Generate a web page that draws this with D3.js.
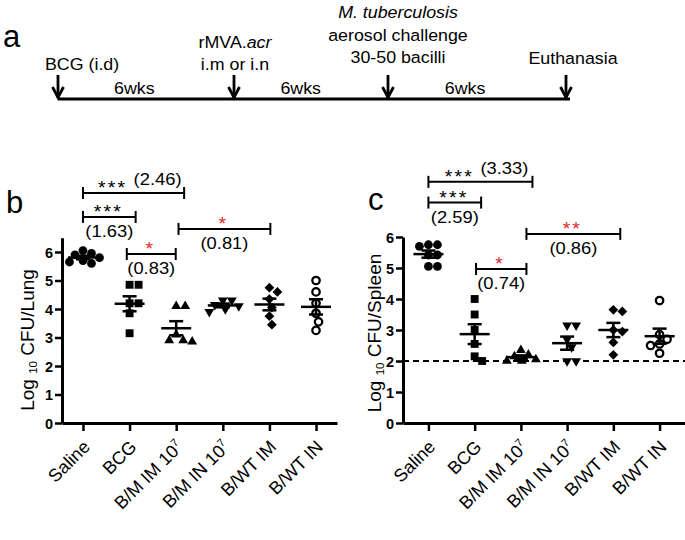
<!DOCTYPE html>
<html><head><meta charset="utf-8">
<script src="https://cdn.jsdelivr.net/npm/d3@7"></script>
<style>
body{margin:0;background:#fff}
svg{display:block}
text{font-family:"Liberation Sans",Arial,Helvetica,sans-serif;fill:#000}
</style>
</head><body>
<svg id="chart" width="685" height="540"></svg>
<script>
// ---------------- DATA ----------------
const categories = ["Saline", "BCG", "B/M IM 10", "B/M IN 10", "B/WT IM", "B/WT IN"];
const categorySup = ["", "", "7", "7", "", ""];

const lungValues = [
  [6.05, 5.95, 5.9, 5.8, 5.7, 5.65, 5.6],
  [4.85, 4.85, 4.2, 4.2, 3.85, 3.15],
  [4.1, 4.1, 3.1, 2.9, 2.85, 2.9],
  [4.3, 4.3, 4.15, 4.1, 4.0, 3.9],
  [4.75, 4.6, 4.35, 4.05, 3.75, 3.45],
  [5.0, 4.6, 4.2, 3.85, 3.55, 3.25]
];
const spleenValues = [
  [5.75, 5.75, 5.7, 5.42, 5.42, 5.05, 5.05],
  [4.0, 3.5, 3.0, 2.55, 2.15, 2.0],
  [2.35, 2.2, 2.15, 2.05, 2.0, 2.0],
  [3.15, 3.15, 2.7, 2.45, 2.0, 2.0],
  [3.65, 3.6, 3.0, 2.95, 2.6, 2.2],
  [3.95, 2.85, 2.7, 2.55, 2.5, 2.25]
];
const lungTicks = [0, 1, 2, 3, 4, 5, 6];
const spleenTicks = [0, 1, 2, 3, 4, 5, 6];
const detectionLimit = 2;

const markerShapes = ["circle", "square", "triangle", "triangleDown", "diamond", "ring"];

// significance brackets: from/to in category index units, level in log10 units
const lungBrackets = [
  {from: 0, to: 2.17, level: 8.07, stars: "***", diff: "(2.46)", red: false, inline: true},
  {from: 0, to: 1.13, level: 7.23, stars: "***", diff: "(1.63)", red: false, inline: false},
  {from: 0.94, to: 1.99, level: 5.93, stars: "*", diff: "(0.83)", red: true, inline: false},
  {from: 2.05, to: 4.02, level: 6.81, stars: "*", diff: "(0.81)", red: true, inline: false}
];
const spleenBrackets = [
  {from: 0, to: 2.25, level: 7.78, stars: "***", diff: "(3.33)", red: false, inline: true},
  {from: 0, to: 1.14, level: 7.11, stars: "***", diff: "(2.59)", red: false, inline: false},
  {from: 1.03, to: 2.12, level: 4.97, stars: "*", diff: "(0.74)", red: true, inline: false},
  {from: 2.12, to: 4.15, level: 6.10, stars: "**", diff: "(0.86)", red: true, inline: false}
];

// timeline (panel a)
const timelineWeeks = [0, 6, 12, 18];
const eventLabels = [
  [[{t: "BCG (i.d)"}]],
  [[{t: "rMVA."}, {t: "acr", i: true}], [{t: "i.m or i.n"}]],
  [[{t: "M. tuberculosis", i: true}], [{t: "aerosol challenge"}], [{t: "30-50 bacilli"}]],
  [[{t: "Euthanasia"}]]
];
const intervalLabels = ["6wks", "6wks", "6wks"];

// ---------------- DRAWING ----------------
const svg = d3.select("#chart");
const RED = "#e3262b";
const SX = 1.08; // horizontal stretch of the reference lettering

function hText(g, x, y, segs, size, anchor, fill) {
  const t = g.append("text")
    .attr("transform", `translate(${x},${y}) scale(${SX},1)`)
    .attr("text-anchor", anchor || "middle")
    .style("font-size", size + "px");
  if (fill) t.style("fill", fill);
  segs.forEach(s => {
    const ts = t.append("tspan").text(s.t);
    if (s.i) ts.style("font-style", "italic");
  });
  return t;
}

// ---- Panel a ----
(function () {
  const g = svg.append("g");
  const tx = d3.scaleLinear().domain(timelineWeeks).range([58, 234, 388, 566]);
  const lineY = 99;
  g.append("text").attr("x", 3).attr("y", 47).style("font-size", "31px").text("a");
  g.append("line").attr("x1", tx(0)).attr("x2", tx(18) + 4)
    .attr("y1", lineY).attr("y2", lineY).attr("stroke", "#000").attr("stroke-width", 3);
  timelineWeeks.forEach(w => {
    const x = tx(w);
    g.append("line").attr("x1", x).attr("x2", x).attr("y1", 75).attr("y2", lineY - 1)
      .attr("stroke", "#000").attr("stroke-width", 2.8);
    g.append("path").attr("d", `M${x - 5.5},${lineY - 12} L${x},${lineY - 1.5} L${x + 5.5},${lineY - 12}`)
      .attr("fill", "none").attr("stroke", "#000").attr("stroke-width", 2.8);
  });
  const labelShift = [{dx: -13, anchor: "start"}, {dx: 1, anchor: "middle"}, {dx: 10, anchor: "middle"}, {dx: 7, anchor: "middle"}];
  const bottomBase = [70, 70, 63, 64];
  eventLabels.forEach((lines, i) => {
    const n = lines.length;
    lines.forEach((segs, j) => {
      const y = bottomBase[i] - (n - 1 - j) * 22.5;
      hText(g, tx(timelineWeeks[i]) + labelShift[i].dx, y, segs, 16.5, labelShift[i].anchor);
    });
  });
  intervalLabels.forEach((lab, i) => {
    hText(g, tx(timelineWeeks[i] + 2.6), 94, [{t: lab}], 16.5, "middle");
  });
})();

// ---- scatter panels ----
function swarmOffsets(vals, y, d) {
  const placed = [];
  const offs = new Array(vals.length);
  const order = vals.map((v, i) => i).sort((a, b) => vals[b] - vals[a]);
  order.forEach(i => {
    const py = y(vals[i]);
    let off = 0;
    for (let k = 0; k < 400; k++) {
      const c = k === 0 ? 0 : ((k % 2) ? 1 : -1) * Math.ceil(k / 2) * 0.5;
      const hit = placed.some(p => (p.x - c) * (p.x - c) + (p.y - py) * (p.y - py) < d * d);
      if (!hit) { off = c; break; }
    }
    placed.push({x: off, y: py});
    offs[i] = off;
  });
  return offs;
}

function marker(g, shape, x, y) {
  let p;
  if (shape === "circle") {
    p = g.append("circle").attr("r", 4.4).attr("fill", "#000");
  } else if (shape === "ring") {
    p = g.append("circle").attr("r", 3.7).attr("fill", "#fff").attr("stroke", "#000").attr("stroke-width", 2.3);
  } else if (shape === "square") {
    p = g.append("path").attr("d", d3.symbol().type(d3.symbolSquare).size(62)()).attr("fill", "#000");
  } else if (shape === "triangle") {
    p = g.append("path").attr("d", d3.symbol().type(d3.symbolTriangle).size(42)()).attr("fill", "#000");
  } else if (shape === "triangleDown") {
    p = g.append("path").attr("d", d3.symbol().type(d3.symbolTriangle).size(42)()).attr("fill", "#000");
    p.attr("transform", `translate(${x},${y}) rotate(180)`);
    return;
  } else if (shape === "diamond") {
    p = g.append("path").attr("d", d3.symbol().type(d3.symbolSquare).size(48)()).attr("fill", "#000");
    p.attr("transform", `translate(${x},${y}) rotate(45)`);
    return;
  }
  if (shape === "circle" || shape === "ring") p.attr("cx", x).attr("cy", y);
  else p.attr("transform", `translate(${x},${y})`);
}

function drawPanel(cfg) {
  const g = svg.append("g");
  const x = d3.scalePoint().domain(categories).range([cfg.x0, cfg.x1]).padding(cfg.pad);
  const y = d3.scaleLinear().domain([0, cfg.yMax]).range([423, 423 - cfg.unit * cfg.yMax]);
  const xi = i => x(categories[0]) + i * x.step();

  // letter
  g.append("text").attr("x", cfg.letterX).attr("y", cfg.letterY).style("font-size", "31px").text(cfg.letter);

  // dashed limit
  if (cfg.dashed) {
    g.append("line").attr("x1", cfg.x0).attr("x2", cfg.x1).attr("y1", y(detectionLimit)).attr("y2", y(detectionLimit))
      .attr("stroke", "#000").attr("stroke-width", 2).attr("stroke-dasharray", "6,4");
  }

  // axes
  const ya = g.append("g").attr("transform", `translate(${cfg.x0},0)`)
    .call(d3.axisLeft(y).tickValues(cfg.ticks).tickSize(7).tickSizeOuter(0).tickPadding(2).tickFormat(d3.format("d")));
  ya.select(".domain").attr("stroke-width", 3);
  ya.selectAll(".tick line").attr("stroke-width", 2.5);
  ya.selectAll(".tick text").style("font-size", "14.5px").style("font-weight", "bold")
    .style("font-family", '"Liberation Sans",Arial,sans-serif').attr("dy", "0.36em");

  const xa = g.append("g").attr("transform", `translate(0,423)`)
    .call(d3.axisBottom(x).tickSize(8).tickSizeOuter(0).tickFormat(""));
  xa.select(".domain").attr("stroke-width", 3);
  xa.selectAll(".tick line").attr("stroke-width", 2.5);

  categories.forEach((c, i) => {
    const t = g.append("text")
      .attr("transform", `translate(${x(c) + 8},448) rotate(-45)`)
      .attr("text-anchor", "end").style("font-size", "18px");
    t.append("tspan").text(c);
    if (categorySup[i]) t.append("tspan").attr("dy", -7).style("font-size", "11px").text(categorySup[i]);
  });

  // y title
  const tt = g.append("text").attr("transform", `translate(${cfg.titleX},${cfg.titleY}) rotate(-90)`)
    .attr("text-anchor", "middle").style("font-size", "19px");
  tt.append("tspan").text("Log ");
  tt.append("tspan").attr("dy", 3).style("font-size", "11.5px").text("10");
  tt.append("tspan").attr("dy", -3).text(" CFU/" + cfg.organ);

  // points
  cfg.values.forEach((vals, i) => {
    const offs = swarmOffsets(vals, y, 8.8);
    vals.forEach((v, k) => marker(g, markerShapes[i], x(categories[i]) + offs[k], y(v)));
  });
  // mean + SEM
  cfg.values.forEach((vals, i) => {
    const cx = x(categories[i]);
    const m = d3.mean(vals);
    const sem = d3.deviation(vals) / Math.sqrt(vals.length);
    const ln = (x1, y1, x2, y2) => g.append("line").attr("x1", x1).attr("y1", y1).attr("x2", x2).attr("y2", y2)
      .attr("stroke", "#000").attr("stroke-width", 2.5);
    ln(cx - 15, y(m), cx + 15, y(m));
    ln(cx, y(m - sem), cx, y(m + sem));
    ln(cx - 7, y(m - sem), cx + 7, y(m - sem));
    ln(cx - 7, y(m + sem), cx + 7, y(m + sem));
  });

  // brackets
  cfg.brackets.forEach(b => {
    const xa1 = xi(b.from), xa2 = xi(b.to), yy = y(b.level);
    const ln = (x1, y1, x2, y2) => g.append("line").attr("x1", x1).attr("y1", y1).attr("x2", x2).attr("y2", y2)
      .attr("stroke", "#000").attr("stroke-width", 2);
    ln(xa1, yy, xa2, yy);
    ln(xa1, yy - 6, xa1, yy + 6);
    ln(xa2, yy - 6, xa2, yy + 6);
    const mid = (xa1 + xa2) / 2;
    const starFill = b.red ? RED : "#000";
    if (b.inline) {
      hText(g, mid - 21, yy + 1, [{t: b.stars}], 18, "middle", starFill).style("letter-spacing", "2px");
      hText(g, mid + 24, yy - 8, [{t: b.diff}], 17, "middle");
    } else {
      hText(g, mid - 1, yy + 1, [{t: b.stars}], 18, "middle", starFill).style("letter-spacing", "2px");
      hText(g, mid, yy + 20, [{t: b.diff}], 17, "middle");
    }
  });
}

drawPanel({x0: 62, x1: 337, pad: 0.45, unit: 28.5, yMax: 6.5, values: lungValues, ticks: lungTicks,
  brackets: lungBrackets, organ: "Lung", titleX: 34, titleY: 340, letter: "b", letterX: 6, letterY: 213, dashed: false});
drawPanel({x0: 403, x1: 685, pad: 0.55, unit: 31, yMax: 6, values: spleenValues, ticks: spleenTicks,
  brackets: spleenBrackets, organ: "Spleen", titleX: 381, titleY: 333, letter: "c", letterX: 368, letterY: 210, dashed: true});
</script>
</body></html>
